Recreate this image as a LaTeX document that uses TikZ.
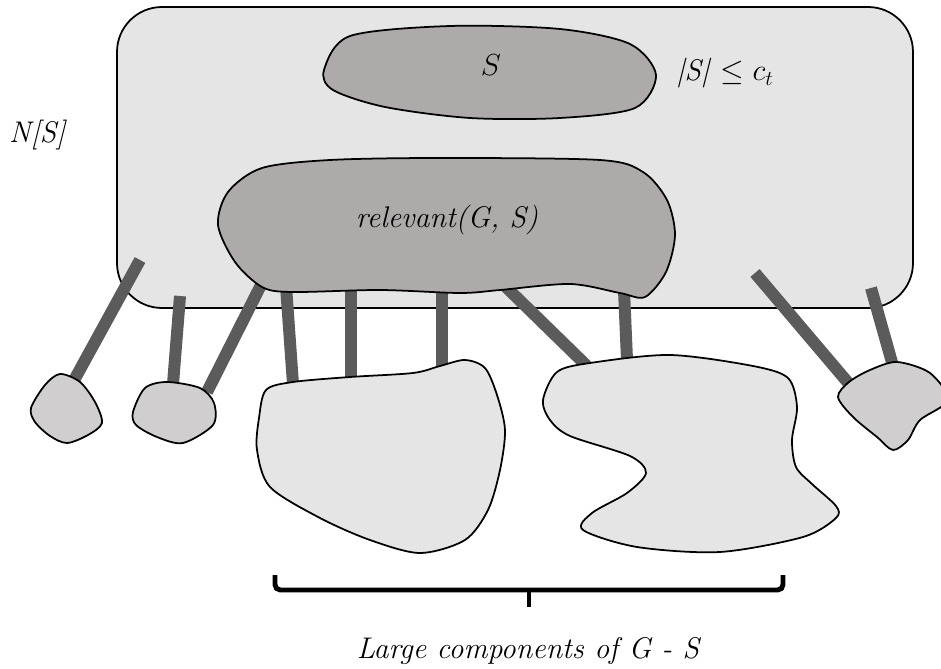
\documentclass[tikz,border=0pt]{standalone}
\usetikzlibrary{positioning}

\definecolor{boxgray}{HTML}{E5E5E5}
\definecolor{setgray}{HTML}{AEAAA9}
\definecolor{smallgray}{HTML}{D0CECF}
\definecolor{bargray}{HTML}{5B5B5B}

\tikzset{
  blob/.style={draw=black,line width=1pt},
  bar/.style={draw=bargray,line width=0.24cm},
  brace/.style={draw=black,line width=2.8pt,rounded corners=3pt},
}

\begin{document}
\begin{tikzpicture}[x=0.02cm,y=-0.02cm]
\clip (0,0) rectangle (941,669);
\fill[white] (0,0) rectangle (941,669);

% neighbourhood box
\draw[blob,fill=boxgray,rounded corners=0.9cm] (117,7) rectangle (913,308);

% bar end points
\coordinate (n1) at (140,260);  \coordinate (c1) at (72,384);
\coordinate (n2) at (180,296);  \coordinate (c2) at (173,384);
\coordinate (r1) at (262,283);  \coordinate (c3) at (207,392);
\coordinate (r2) at (286,286);  \coordinate (c4) at (293,384);
\coordinate (r3) at (351,286);  \coordinate (c5) at (351,380);
\coordinate (r4) at (442,286);  \coordinate (c6) at (442,368);
\coordinate (r5) at (505,286);  \coordinate (c7) at (588,367);
\coordinate (r6) at (624,290);  \coordinate (c8) at (627,360);
\coordinate (n3) at (755,273);  \coordinate (c9) at (850,385);
\coordinate (n4) at (871,288);  \coordinate (c10) at (893,366);

\begin{scope}[every path/.style={bar}]
    \draw (n1) -- (c1);
    \draw (n2) -- (c2);
    \draw (r1) -- (c3);
    \draw (r2) -- (c4);
    \draw (r3) -- (c5);
    \draw (r4) -- (c6);
    \draw (r5) -- (c7);
    \draw (r6) -- (c8);
    \draw (n3) -- (c9);
    \draw (n4) -- (c10);
\end{scope}

% S and relevant(G,S)
\draw[blob,fill=setgray] plot[smooth cycle] coordinates {
    (324,70) (350,36) (450,26) (560,29) (630,44) (656,75)
    (635,108) (560,118) (470,118) (385,107) (333,90)};
\draw[blob,fill=setgray] plot[smooth cycle] coordinates {
    (218,225) (228,192) (262,168) (330,160) (440,158) (600,160)
    (643,172) (667,200) (675,235) (666,272) (645,297) (620,293)
    (570,284) (500,290) (460,293) (380,290) (292,292) (262,287) (235,262)};

% small components
\draw[blob,fill=smallgray] plot[smooth cycle] coordinates {
    (31,408) (45,385) (60,374) (80,382) (95,402) (102,423)
    (88,435) (67,443) (50,436) (35,422)};
\draw[blob,fill=smallgray] plot[smooth cycle] coordinates {
    (133,412) (145,388) (167,382) (200,388) (214,403) (213,425)
    (183,443) (157,437) (136,425)};
\draw[blob,fill=smallgray] plot[smooth cycle] coordinates {
    (838,397) (849,382) (870,370) (897,362) (930,373) (948,400)
    (920,420) (908,440) (893,450) (877,437) (853,417)};

% large components
\draw[blob,fill=boxgray] plot[smooth cycle] coordinates {
    (266,390) (293,382) (350,377) (413,373) (440,366) (465,360)
    (485,368) (497,395) (505,430) (500,470) (488,510) (465,540)
    (420,553) (370,540) (320,518) (270,487) (257,450) (259,418)};
\draw[blob,fill=boxgray] plot[smooth cycle] coordinates {
    (543,400) (557,372) (590,363) (670,355) (753,366) (788,378)
    (797,407) (792,440) (796,467) (812,484) (836,506) (836,518)
    (803,537) (720,552) (637,547) (583,530) (592,513) (627,493)
    (646,473) (630,456) (570,436) (550,420)};

% brace
\coordinate (bl) at (275,575);
\coordinate (br) at (783,575);
\coordinate (bm) at (529,590);
\draw[brace] (bl) -- (275,590) -- (783,590) -- (br);
\draw[brace] (bm) -- (529,607);

% labels
\begin{scope}[every node/.style={font=\fontsize{17}{20}\selectfont,inner sep=0pt}]
    \node (ns)    at (38,135)  {\textit{N[S]}};
    \node (slab)  at (491,65)  {$S$};
    \node (bound) at (725,73)  {\textit{|S|} $\leq c_t$};
    \node (rel)   at (447,220) {\textit{relevant(G, S)}};
    \node[below=0.95cm of bm] (large) {\textit{Large components of G - S}};
\end{scope}
\end{tikzpicture}
\end{document}
